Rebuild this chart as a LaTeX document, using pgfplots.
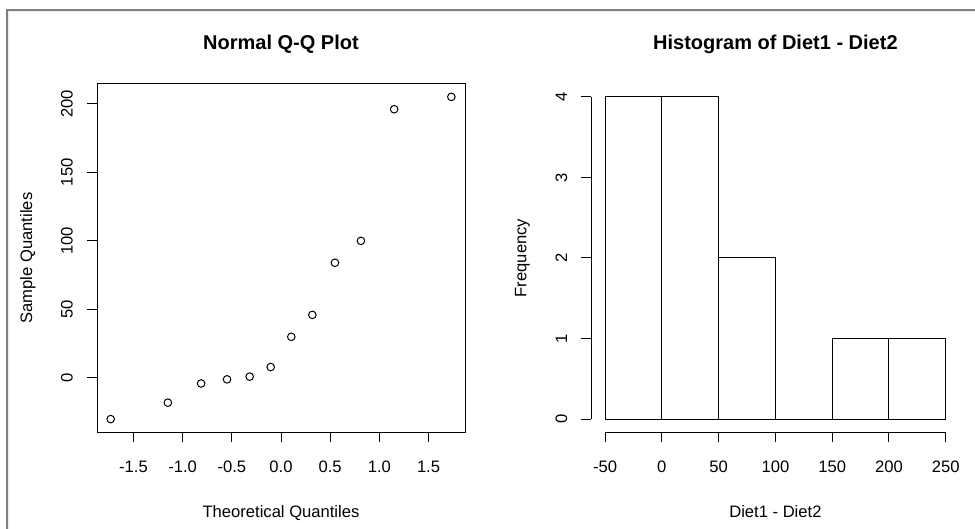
\documentclass[border=0pt]{standalone}
\usepackage{fontspec}
\setmainfont{Liberation Sans}
\usepackage{pgfplots}
\pgfplotsset{compat=1.18}
\newcommand{\basefont}{\fontsize{16.6bp}{20bp}\selectfont}
\newcommand{\titlefont}{\fontsize{20bp}{24bp}\selectfont\bfseries}
\pgfplotsset{
  rstyle/.style={
    scale only axis, width=368bp, height=348bp,
    anchor=south west,
    /pgf/number format/assume math mode=true,
    tick align=outside,
    major tick length=10bp,
    axis line style={line width=1bp, black},
    tick style={line width=1bp, black},
    tick label style={font=\basefont, inner sep=0pt},
    xticklabel style={anchor=north},
    yticklabel style={rotate=90, anchor=south},
    xticklabel shift=18.7bp,
    yticklabel shift=14bp,
    every axis title/.style={at={(axis description cs:0.5,1)}, anchor=base, yshift=34bp, font=\titlefont},
    every axis x label/.style={at={(axis description cs:0.5,0)}, anchor=base, yshift=-85bp, font=\basefont},
    every axis y label/.style={at={(axis description cs:0,0.5)}, xshift=-65bp, rotate=90, anchor=base, font=\basefont},
  }
}
\begin{document}
\begin{tikzpicture}
\useasboundingbox (0,0) rectangle (975bp,529bp);
\fill[white] (0,0) rectangle (975bp,529bp);
\fill[black!50] (6bp,0) rectangle (8bp,520bp);
\fill[black!50] (6bp,518bp) rectangle (975bp,520bp);
\fill[black!8] (8bp,0) rectangle (9bp,518bp);
\fill[black!8] (8bp,517bp) rectangle (975bp,518bp);

\begin{axis}[rstyle,
  at={(97bp,97bp)},
  xmin=-1.8706, xmax=1.8706, ymin=-39.4, ymax=214.4,
  xtick={-1.5,-1.0,-0.5,0,0.5,1.0,1.5},
  ytick={0,50,100,150,200},
  tick pos=left,
  xticklabel style={/pgf/number format/.cd, fixed, fixed zerofill, precision=1},
  title={Normal Q-Q Plot},
  xlabel={Theoretical Quantiles},
  ylabel={Sample Quantiles},
]
\addplot[only marks, mark=o, mark size=3.8bp, mark options={line width=1bp, black}] coordinates {
(-1.7317,-30) (-1.1503,-18) (-0.8122,-4) (-0.5485,-1) (-0.3186,1) (-0.1046,8)
(0.1046,30) (0.3186,46) (0.5485,84) (0.8122,100) (1.1503,196) (1.7317,205)
};
\end{axis}

\begin{axis}[rstyle,
  at={(591.4bp,97bp)},
  xmin=-62, xmax=262, ymin=-0.16, ymax=4.16,
  axis x line*=bottom, axis y line*=left,
  axis line style={draw=none},
  clip=false,
  xtick={-50,0,50,100,150,200,250},
  ytick={0,1,2,3,4},
  title={Histogram of Diet1 - Diet2},
  xlabel={Diet1 - Diet2},
  ylabel={Frequency},
]
\addplot[ybar interval, fill=white, draw=black, line width=1bp] coordinates {
(-50,4) (0,4) (50,2) (100,0) (150,1) (200,1) (250,1)
};
\addplot[black, line width=1bp] coordinates {(-50,-0.16) (250,-0.16)};
\addplot[black, line width=1bp] coordinates {(-62,0) (-62,4)};
\end{axis}
\end{tikzpicture}
\end{document}
